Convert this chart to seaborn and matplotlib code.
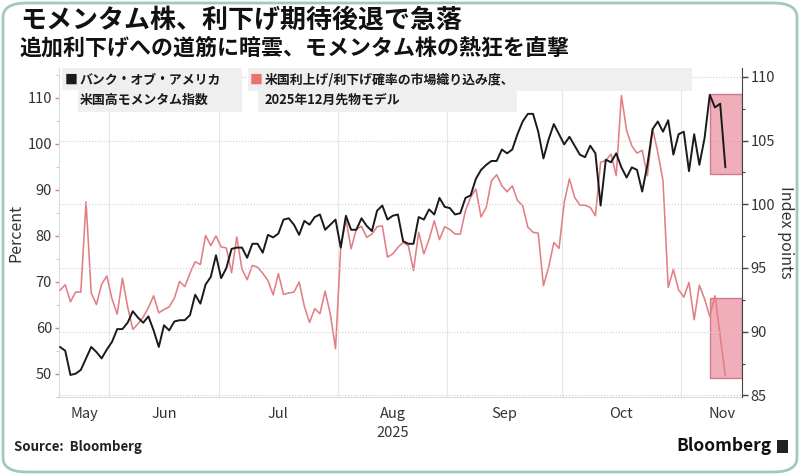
import numpy as np
import pandas as pd
import matplotlib.pyplot as plt
import matplotlib.transforms as mtransforms
import seaborn as sns
from matplotlib.patches import Rectangle, FancyBboxPatch

sns.set_style("white")
plt.rcParams['font.family'] = ['Noto Sans CJK JP', 'DejaVu Sans']

# trading days shown on the chart (weekdays, evenly spaced)
dates = pd.bdate_range("2025-05-19", "2025-11-13")

# market-implied probability of a Dec-2025 cut (left axis, %)
rate_prob = [
    68.2, 69.4, 65.7, 67.8, 67.8, 87.4, 67.6, 65.1, 69.5, 71.3,
    66.3, 63.0, 70.8, 64.6, 59.7, 60.9, 62.4, 64.4, 67.0, 63.3,
    64.0, 64.6, 66.5, 70.1, 69.0, 71.9, 74.4, 73.8, 80.1, 77.9,
    80.0, 77.6, 77.4, 72.0, 79.8, 72.8, 70.5, 73.6, 73.2, 71.9,
    70.3, 67.2, 71.8, 67.3, 67.6, 67.8, 70.0, 64.7, 61.2, 64.2,
    63.1, 68.0, 63.0, 55.5, 77.5, 83.6, 77.2, 81.5, 82.1, 79.7,
    80.4, 82.0, 82.2, 75.4, 76.1, 77.5, 78.6, 77.9, 72.5, 80.8,
    76.1, 79.3, 83.3, 79.2, 82.0, 81.4, 80.4, 80.4, 85.5, 88.4,
    90.2, 84.1, 86.2, 92.0, 93.3, 90.9, 89.6, 90.9, 87.7, 86.6,
    81.9, 80.8, 80.6, 69.2, 73.2, 78.6, 77.3, 87.3, 92.4, 88.4,
    86.7, 86.7, 86.2, 84.4, 96.0, 96.4, 97.8, 93.1, 110.5, 102.9,
    99.6, 98.0, 98.6, 93.1, 103.3, 98.2, 92.0, 68.8, 72.7, 68.3,
    66.7, 69.9, 61.8, 69.3, 66.3, 62.5, 67.0, 58.3, 49.6,
]

# BofA US high momentum index (right axis, index points)
momentum_idx = [
    88.8, 88.5, 86.6, 86.7, 87.0, 87.9, 88.8, 88.4, 87.9, 88.6,
    89.2, 90.2, 90.2, 90.7, 91.6, 91.1, 90.7, 91.2, 90.1, 88.8,
    90.5, 90.1, 90.8, 90.9, 90.9, 91.3, 92.9, 92.2, 93.7, 94.3,
    96.0, 94.2, 95.0, 96.5, 96.6, 96.6, 95.8, 96.9, 96.9, 96.2,
    97.6, 97.4, 97.7, 98.8, 98.9, 98.4, 97.6, 98.7, 98.4, 99.0,
    99.2, 98.0, 98.4, 98.8, 96.6, 99.1, 98.0, 98.0, 98.9, 98.3,
    97.9, 99.5, 99.9, 98.8, 99.1, 99.2, 97.1, 96.9, 96.9, 99.0,
    98.8, 99.6, 99.2, 100.5, 99.8, 99.7, 99.2, 99.3, 100.5, 100.7,
    102.0, 102.7, 103.1, 103.4, 103.4, 104.3, 104.0, 104.3, 105.5, 106.5,
    107.1, 107.1, 105.7, 103.6, 105.1, 106.3, 105.5, 104.7, 105.3, 104.6,
    103.9, 103.7, 104.6, 104.0, 99.9, 103.5, 103.3, 104.0, 102.9, 102.1,
    102.9, 102.7, 101.0, 103.1, 105.9, 106.5, 105.7, 106.6, 103.9, 105.5,
    105.7, 102.6, 105.5, 103.1, 105.2, 108.6, 107.6, 107.9, 102.9,
]

# highlighted last days
highlight_start = 125
mom_box = (102.4, 108.65)
prob_box = (49.1, 66.6)

left_ticks = [50, 60, 70, 80, 90, 100, 110]
right_ticks = [85, 90, 95, 100, 105, 110]

pink = '#e27f84'
dark = '#1a1a1a'
txt = '#333333'

df = pd.DataFrame({"date": dates, "day": np.arange(len(dates)),
                   "prob": rate_prob, "mom": momentum_idx})

fig = plt.figure(figsize=(8, 4.75), dpi=100)
ax = fig.add_axes([59 / 800, 1 - 397 / 475, 683 / 800, 329 / 475])
ax2 = ax.twinx()

xmin, xmax = -0.2, 131.2
ax.set_xlim(xmin, xmax)
ax.set_ylim(45.1, 116.5)
ax2.set_ylim(84.87, 110.7)

# highlight boxes
ax.add_patch(Rectangle((highlight_start, prob_box[0]), xmax - highlight_start,
                       prob_box[1] - prob_box[0], facecolor='#e98c9c', alpha=0.7,
                       edgecolor='#c25468', lw=1, zorder=1))
ax2.add_patch(Rectangle((highlight_start, mom_box[0]), xmax - highlight_start,
                        mom_box[1] - mom_box[0], facecolor='#e98c9c', alpha=0.7,
                        edgecolor='#c25468', lw=1, zorder=1))

sns.lineplot(data=df, x="day", y="prob", ax=ax, color=pink, lw=1.15, zorder=3)
sns.lineplot(data=df, x="day", y="mom", ax=ax2, color=dark, lw=1.4, zorder=3)

# month boundaries and label positions
bounds = [i - 0.5 for i in range(1, len(dates)) if dates[i].month != dates[i - 1].month]
edges = [xmin] + bounds + [xmax + 4]
centers = [(a + b) / 2 for a, b in zip(edges[:-1], edges[1:])]
month_names = [dates[0].strftime('%b')] + [dates[int(b + 0.5)].strftime('%b') for b in bounds]

ax.set_xticks(centers)
ax.set_xticklabels(month_names, fontsize=10.5, color=txt)
ax.set_xticks(bounds, minor=True)
ax.tick_params(axis='x', which='major', length=0, pad=7)
ax.tick_params(axis='x', which='minor', length=6, color='#dddddd', width=0.8)
ax.grid(axis='x', which='minor', color='#e6e6e6', lw=0.8)
ax.set_xlabel('')
trans = mtransforms.blended_transform_factory(ax.transData, ax.transAxes)
ax.text(centers[3], -0.11, '2025', transform=trans, ha='center', va='center',
        fontsize=10.5, color=txt)

ax.set_yticks(left_ticks)
ax.set_yticks(np.arange(45, 116, 5), minor=True)
ax.tick_params(axis='y', which='major', length=3, color=pink, width=1,
               labelsize=10.5, labelcolor=txt, pad=2)
ax.tick_params(axis='y', which='minor', length=2, color='#bbbbbb', width=0.6)
ax.set_ylabel('Percent', fontsize=11.5, color=txt, labelpad=2)

ax2.set_yticks(right_ticks)
ax2.set_yticks(np.arange(85, 110.1, 2.5), minor=True)
ax2.tick_params(axis='y', which='major', length=4, color='#444444', width=1,
                labelsize=10.5, labelcolor=txt, pad=2)
ax2.tick_params(axis='y', which='minor', length=2, color='#444444', width=0.8)
ax2.set_ylabel('Index points', fontsize=11.5, color=txt, rotation=270, labelpad=14)
ax2.grid(axis='y', which='major', color='#cfcfcf', linestyle=':', lw=0.8)
ax2.set_axisbelow(True)

for a in (ax, ax2):
    a.spines['top'].set_visible(False)
ax.spines['left'].set_color('#dddddd')
ax.spines['bottom'].set_color('#dddddd')
ax.spines['right'].set_visible(False)
ax2.spines['left'].set_visible(False)
ax2.spines['bottom'].set_visible(False)
ax2.spines['right'].set_color('#444444')

# legend blocks
def gray_box(x0, y0, x1, y1):
    fig.patches.append(Rectangle((x0 / 800, 1 - y1 / 475), (x1 - x0) / 800, (y1 - y0) / 475,
                                 transform=fig.transFigure, facecolor='#efefef',
                                 edgecolor='none', zorder=5))

gray_box(62, 68, 242, 90)
gray_box(78, 90, 242, 112)
gray_box(248, 68, 692, 91)
gray_box(258, 91, 517, 112)

lg = dict(fontsize=9.3, fontweight='bold', color='#1a1a1a', va='center', zorder=6)
fig.text(65 / 800, 1 - 80 / 475, '■', **{**lg, 'color': dark})
fig.text(80 / 800, 1 - 80 / 475, 'バンク・オブ・アメリカ', **lg)
fig.text(80 / 800, 1 - 100 / 475, '米国高モメンタム指数', **lg)
fig.text(250 / 800, 1 - 80 / 475, '■', **{**lg, 'color': '#e8736f'})
fig.text(265 / 800, 1 - 80 / 475, '米国利上げ/利下げ確率の市場織り込み度、', **lg)
fig.text(265 / 800, 1 - 100 / 475, '2025年12月先物モデル', **lg)

# titles and footer
fig.text(20 / 800, 1 - 20 / 475, 'モメンタム株、利下げ期待後退で急落', fontsize=18.7,
         fontweight='bold', color='#111111', va='center')
fig.text(20 / 800, 1 - 48 / 475, '追加利下げへの道筋に暗雲、モメンタム株の熱狂を直撃',
         fontsize=15.8, fontweight='bold', color='#111111', va='center')
fig.text(14 / 800, 1 - 447 / 475, 'Source:  Bloomberg', fontsize=9.5, fontweight='bold',
         color='#222222', va='center')
fig.text(772 / 800, 1 - 446 / 475, 'Bloomberg', fontsize=12.5, fontweight='bold',
         color='#111111', va='center', ha='right')
fig.patches.append(Rectangle((777 / 800, 1 - 453 / 475), 11 / 800, 13 / 475,
                             transform=fig.transFigure, facecolor='#222222',
                             edgecolor='none'))

# rounded outer frame
fig.patches.append(FancyBboxPatch((3 / 800, 3 / 475), 794 / 800, 469 / 475,
                                  boxstyle='round,pad=0,rounding_size=0.03',
                                  transform=fig.transFigure, facecolor='none',
                                  edgecolor='#9ecbbb', lw=2, zorder=0))

fig.savefig('out.png', dpi=100)
